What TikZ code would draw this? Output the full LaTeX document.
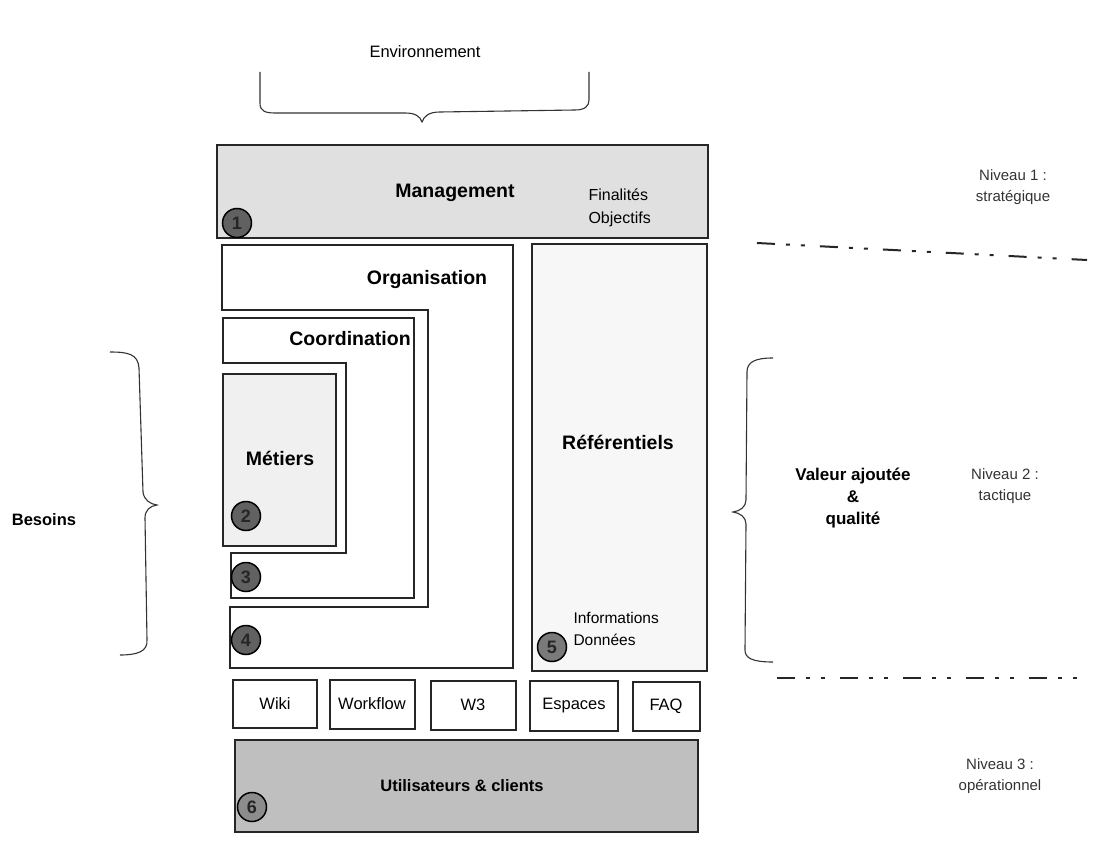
\documentclass[tikz,border=0pt]{standalone}
\usepackage{fontspec}
\setmainfont{Liberation Sans}
\begin{document}
\begin{tikzpicture}[x=1pt,y=-1pt,
  frame/.style={draw=black!85,line width=1.5pt},
  big/.style={font=\fontsize{19.5}{22}\selectfont\bfseries},
  mid/.style={font=\fontsize{16.5}{18}\selectfont\bfseries},
  reg/.style={font=\fontsize{16.5}{20}\selectfont},
  lvl/.style={font=\fontsize{15}{21}\selectfont,text=black!80,align=center},
  num/.style={circle,draw=black,line width=1.5pt,fill=#1,minimum size=29pt,inner sep=0pt,font=\fontsize{18}{18}\selectfont\bfseries,text=black!85},
  num/.default=black!62,
  brace/.style={draw=black!80,line width=1.1pt},
  dashdot/.style={draw=black!85,line width=2pt,dash pattern=on 18pt off 11pt on 4pt off 11pt on 4pt off 15pt}]
\useasboundingbox (0,0) rectangle (1101,843);
% top brace and label
\node[reg] (env) at (425,52) {Environnement};
\draw[brace] (260,72) -- (260,103) .. controls (260,111) and (265,113) .. (275,113) -- (405,113) .. controls (415,113) and (420,116) .. (422,122) .. controls (424,116) and (429,112) .. (440,112) -- (575,110) .. controls (585,110) and (589,106) .. (589,100) -- (589,72);
% management
\draw[frame,fill=black!12] (217,145) rectangle (708,238);
\node[big] (mgmt) at (455,193) {Management};
\node[reg,align=left,anchor=west,font=\fontsize{16}{23}\selectfont] (fin) at (585,208) {Finalités\\Objectifs};
\node[num] (n1) at (237,223) {1};
% organisation shape
\draw[frame,fill=white] (222,310) -- (222,245) -- (513,245) -- (513,668) -- (230,668) -- (230,607) -- (428,607) -- (428,310) -- cycle;
\node[big] (org) at (427,279) {Organisation};
% coordination shape
\draw[frame,fill=white] (223,363) -- (223,318) -- (414,318) -- (414,598) -- (231,598) -- (231,553) -- (346,553) -- (346,363) -- cycle;
\node[big] (coord) at (350,339) {Coordination};
% metiers
\draw[frame,fill=black!6] (223,374) rectangle (336,546);
\node[big] (met) at (280,458) {Métiers};
\node[num] (n2) at (246,516) {2};
\node[num] (n3) at (246,577) {3};
\node[num] (n4) at (246,640) {4};
% referentiels
\draw[frame,fill=black!3] (532,244) rectangle (707,671);
\node[big] (ref) at (618,442) {Référentiels};
\node[reg,align=left,anchor=west,font=\fontsize{15.5}{22}\selectfont] (info) at (570,629) {Informations\\Données};
\node[num=black!52] (n5) at (552,647) {5};
% tools row
\draw[frame,line width=1.2pt] (233,680) rectangle (317,728);
\node[reg] (wiki) at (275,704) {Wiki};
\draw[frame,line width=1.2pt] (330,680) rectangle (415,729);
\node[reg] (wf) at (372,704) {Workflow};
\draw[frame,line width=1.2pt] (431,681) rectangle (516,730);
\node[reg] (w3) at (473,705) {W3};
\draw[frame,line width=1.2pt] (530,681) rectangle (618,731);
\node[reg] (esp) at (574,706) {Espaces};
\draw[frame,line width=1.2pt] (633,682) rectangle (700,731);
\node[reg] (faq) at (666,706) {FAQ};
% users
\draw[frame,fill=black!25] (235,740) rectangle (698,832);
\node[mid] (users) at (462,786) {Utilisateurs \& clients};
\node[num=black!45] (n6) at (252,807) {6};
% left brace
\draw[brace] (110,352) .. controls (128,352) and (138,354) .. (139,368) -- (143,492) .. controls (144,500) and (150,504) .. (157,505) .. controls (150,506) and (145,510) .. (145,518) -- (147,640) .. controls (148,652) and (136,655) .. (120,655);
\node[mid] (bes) at (44,520) {Besoins};
% right brace
\draw[brace] (773,358) .. controls (755,358) and (747,362) .. (747,372) -- (746,500) .. controls (746,507) and (740,511) .. (733,512) .. controls (740,513) and (746,517) .. (746,524) -- (745,650) .. controls (745,658) and (752,662) .. (773,662);
\node[align=center,font=\fontsize{17}{22}\selectfont\bfseries] (val) at (853,498) {Valeur ajoutée\\\&\\qualité};
% levels
\node[lvl] (lv1) at (1013,187) {Niveau 1 :\\stratégique};
\node[lvl] (lv2) at (1005,486) {Niveau 2 :\\tactique};
\node[lvl] (lv3) at (1000,776) {Niveau 3 :\\opérationnel};
\coordinate (d1a) at (757,243);
\coordinate (d1b) at (1087,260);
\coordinate (d2a) at (777,678);
\coordinate (d2b) at (1087,678);
\draw[dashdot] (d1a) -- (d1b);
\draw[dashdot] (d2a) -- (d2b);
\end{tikzpicture}
\end{document}
